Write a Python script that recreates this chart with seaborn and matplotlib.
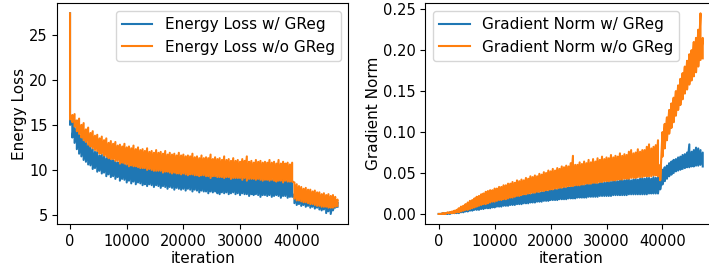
import numpy as np
import pandas as pd
import matplotlib
matplotlib.use("Agg")
import matplotlib.pyplot as plt
import seaborn as sns

# ---- data (upper / lower edges of the noisy curves) ----
iteration = np.arange(0, 47201, 400)

energy_w_hi = [27.4, 15.3, 15.5, 14.6, 14.4, 13.7, 13.5, 13.2, 12.8, 12.6,
               12.3, 12.0, 12.0, 11.6, 11.7, 11.5, 11.3, 11.4, 11.1, 11.1,
               11.0, 10.8, 11.0, 10.7, 10.8, 10.6, 10.7, 10.5, 10.6, 10.4,
               10.5, 10.3, 10.4, 10.2, 10.4, 10.1, 10.2, 10.1, 10.2, 10.0,
               10.1, 9.9, 10.1, 9.9, 10.0, 9.8, 9.9, 9.8, 9.9, 9.7,
               9.8, 9.7, 9.8, 9.6, 9.7, 9.6, 9.7, 9.5, 9.6, 9.5,
               9.6, 9.4, 9.5, 9.4, 9.5, 9.3, 9.5, 9.3, 9.4, 9.3,
               9.3, 9.2, 9.3, 9.2, 9.3, 9.1, 9.2, 9.1, 9.2, 9.0,
               9.1, 9.0, 9.2, 9.0, 9.1, 8.9, 9.0, 8.9, 9.0, 8.9,
               8.9, 8.8, 9.0, 8.8, 8.9, 8.8, 8.9, 8.7, 8.8, 7.3,
               7.2, 7.1, 7.1, 7.0, 7.0, 6.9, 6.9, 6.9, 6.8, 6.8,
               6.7, 6.7, 6.7, 6.6, 6.6, 6.5, 6.5, 6.5, 6.4]

energy_w_lo = [15.0, 13.6, 13.0, 12.3, 11.8, 11.5, 11.1, 10.9, 10.6, 10.5,
               10.1, 10.2, 9.8, 9.9, 9.6, 9.7, 9.3, 9.5, 9.2, 9.3,
               9.0, 9.2, 8.8, 9.0, 8.9, 8.6, 8.8, 8.5, 8.7, 8.4,
               8.6, 8.5, 8.3, 8.4, 8.2, 8.4, 8.3, 8.1, 8.3, 8.2,
               8.0, 8.2, 8.1, 7.9, 8.1, 8.0, 7.8, 8.0, 7.9, 7.8,
               7.9, 7.7, 7.9, 7.8, 7.6, 7.8, 7.7, 7.5, 7.7, 7.6,
               7.6, 7.4, 7.6, 7.5, 7.6, 7.4, 7.3, 7.5, 7.4, 7.5,
               7.3, 7.4, 7.5, 7.3, 7.4, 7.2, 7.4, 7.3, 7.3, 7.1,
               7.3, 7.2, 7.3, 7.2, 7.0, 7.2, 7.2, 7.1, 7.2, 7.0,
               7.1, 7.2, 7.1, 6.9, 7.1, 7.1, 6.9, 7.0, 7.0, 6.3,
               6.1, 6.2, 6.0, 6.1, 5.9, 6.0, 5.8, 5.9, 5.7, 5.8,
               5.6, 5.5, 5.6, 5.2, 5.4, 5.1, 5.5, 5.8, 5.9]

energy_wo_hi = [27.4, 16.1, 16.2, 15.5, 15.7, 15.0, 15.2, 14.5, 14.7, 14.1,
                14.3, 13.8, 13.9, 13.5, 13.7, 13.3, 13.5, 13.0, 13.2, 12.9,
                13.1, 12.7, 12.8, 12.6, 12.9, 12.5, 12.6, 12.4, 12.7, 12.3,
                12.5, 12.2, 12.3, 12.1, 12.4, 12.0, 12.1, 11.9, 12.2, 11.9,
                12.0, 11.8, 12.1, 11.7, 11.9, 11.7, 11.8, 11.6, 11.9, 11.6,
                11.7, 11.5, 11.6, 11.5, 11.8, 11.4, 11.5, 11.3, 11.6, 11.3,
                11.4, 11.3, 11.7, 11.2, 11.4, 11.2, 11.3, 11.1, 11.5, 11.1,
                11.2, 11.0, 11.3, 11.0, 11.1, 10.9, 11.2, 11.0, 11.5, 10.9,
                11.0, 10.8, 11.1, 10.9, 11.0, 10.8, 10.9, 10.8, 11.1, 10.8,
                10.9, 10.7, 11.1, 10.7, 10.9, 10.7, 10.8, 10.6, 10.8, 8.6,
                8.4, 8.2, 8.1, 7.9, 8.0, 7.8, 7.8, 7.6, 7.7, 7.5,
                7.5, 7.3, 7.4, 7.2, 7.3, 7.1, 7.2, 7.0, 6.7]

energy_wo_lo = [15.6, 15.3, 14.8, 14.3, 14.0, 13.6, 13.3, 13.1, 12.8, 12.6,
                12.4, 12.2, 12.1, 11.8, 11.8, 11.6, 11.5, 11.3, 11.2, 11.2,
                11.0, 11.0, 10.7, 10.8, 10.7, 10.6, 10.4, 10.5, 10.4, 10.4,
                10.3, 10.2, 10.2, 10.2, 10.0, 10.1, 10.0, 9.9, 9.9, 9.9,
                9.9, 9.7, 9.8, 9.8, 9.7, 9.6, 9.7, 9.6, 9.6, 9.5,
                9.6, 9.5, 9.4, 9.5, 9.5, 9.4, 9.4, 9.3, 9.4, 9.4,
                9.3, 9.3, 9.1, 9.3, 9.3, 9.2, 9.2, 9.2, 9.1, 9.2,
                9.2, 9.0, 9.1, 9.1, 9.1, 9.1, 8.9, 9.1, 8.8, 9.0,
                9.0, 9.0, 8.9, 9.0, 8.9, 8.8, 8.9, 8.9, 8.8, 8.9,
                8.8, 8.7, 8.8, 8.8, 8.6, 8.8, 8.7, 8.7, 8.7, 6.8,
                6.6, 6.6, 6.5, 6.4, 6.4, 6.3, 6.2, 6.2, 6.1, 6.0,
                6.0, 5.9, 5.9, 5.9, 5.8, 5.8, 5.8, 5.9, 6.0]

grad_w_hi = [0.000, 0.000, 0.001, 0.001, 0.001, 0.002, 0.002, 0.003, 0.003, 0.004,
             0.005, 0.006, 0.006, 0.007, 0.008, 0.009, 0.009, 0.010, 0.011, 0.012,
             0.013, 0.013, 0.014, 0.015, 0.015, 0.016, 0.017, 0.017, 0.018, 0.018,
             0.019, 0.019, 0.020, 0.020, 0.021, 0.021, 0.022, 0.022, 0.023, 0.023,
             0.024, 0.024, 0.025, 0.025, 0.026, 0.026, 0.027, 0.027, 0.028, 0.028,
             0.029, 0.029, 0.030, 0.030, 0.031, 0.031, 0.032, 0.032, 0.033, 0.033,
             0.034, 0.034, 0.035, 0.035, 0.036, 0.035, 0.036, 0.037, 0.036, 0.037,
             0.038, 0.037, 0.038, 0.039, 0.038, 0.039, 0.040, 0.039, 0.040, 0.041,
             0.040, 0.041, 0.045, 0.041, 0.042, 0.042, 0.041, 0.042, 0.043, 0.042,
             0.043, 0.044, 0.043, 0.044, 0.044, 0.043, 0.045, 0.044, 0.045, 0.048,
             0.054, 0.057, 0.059, 0.062, 0.064, 0.066, 0.067, 0.069, 0.070, 0.072,
             0.073, 0.075, 0.085, 0.076, 0.078, 0.081, 0.080, 0.078, 0.075]

grad_w_lo = [0.000, 0.000, 0.000, 0.000, 0.000, 0.000, 0.001, 0.001, 0.001, 0.001,
             0.002, 0.002, 0.003, 0.003, 0.004, 0.004, 0.005, 0.005, 0.005, 0.006,
             0.006, 0.007, 0.007, 0.007, 0.008, 0.008, 0.009, 0.009, 0.009, 0.010,
             0.010, 0.010, 0.011, 0.011, 0.011, 0.012, 0.012, 0.012, 0.013, 0.013,
             0.013, 0.014, 0.014, 0.014, 0.015, 0.015, 0.015, 0.016, 0.016, 0.016,
             0.017, 0.017, 0.017, 0.017, 0.018, 0.018, 0.018, 0.018, 0.019, 0.019,
             0.019, 0.019, 0.020, 0.020, 0.020, 0.020, 0.020, 0.021, 0.021, 0.021,
             0.021, 0.021, 0.022, 0.022, 0.022, 0.022, 0.022, 0.022, 0.023, 0.023,
             0.023, 0.023, 0.023, 0.023, 0.023, 0.024, 0.024, 0.024, 0.024, 0.024,
             0.024, 0.024, 0.024, 0.024, 0.025, 0.025, 0.025, 0.025, 0.025, 0.030,
             0.036, 0.040, 0.043, 0.046, 0.048, 0.050, 0.052, 0.053, 0.054, 0.055,
             0.056, 0.057, 0.057, 0.058, 0.058, 0.059, 0.059, 0.060, 0.058]

grad_wo_hi = [0.000, 0.000, 0.001, 0.001, 0.002, 0.002, 0.003, 0.004, 0.005, 0.007,
              0.009, 0.010, 0.012, 0.014, 0.016, 0.017, 0.019, 0.021, 0.022, 0.024,
              0.025, 0.027, 0.028, 0.029, 0.029, 0.031, 0.031, 0.033, 0.033, 0.035,
              0.035, 0.037, 0.037, 0.039, 0.038, 0.041, 0.040, 0.042, 0.041, 0.044,
              0.043, 0.046, 0.045, 0.047, 0.046, 0.049, 0.048, 0.051, 0.050, 0.053,
              0.052, 0.055, 0.053, 0.056, 0.055, 0.058, 0.057, 0.059, 0.058, 0.062,
              0.071, 0.060, 0.060, 0.063, 0.061, 0.064, 0.062, 0.066, 0.063, 0.067,
              0.064, 0.068, 0.066, 0.070, 0.067, 0.069, 0.068, 0.072, 0.069, 0.071,
              0.070, 0.074, 0.071, 0.073, 0.072, 0.076, 0.078, 0.074, 0.075, 0.079,
              0.076, 0.078, 0.078, 0.082, 0.085, 0.080, 0.082, 0.084, 0.090, 0.060,
              0.100, 0.110, 0.118, 0.127, 0.135, 0.142, 0.150, 0.157, 0.165, 0.172,
              0.180, 0.187, 0.195, 0.200, 0.210, 0.215, 0.225, 0.245, 0.215]

grad_wo_lo = [0.000, 0.000, 0.000, 0.000, 0.001, 0.001, 0.001, 0.001, 0.002, 0.002,
              0.003, 0.004, 0.005, 0.005, 0.006, 0.007, 0.008, 0.009, 0.010, 0.011,
              0.012, 0.012, 0.013, 0.014, 0.015, 0.015, 0.016, 0.017, 0.017, 0.018,
              0.018, 0.019, 0.020, 0.020, 0.021, 0.022, 0.022, 0.023, 0.024, 0.024,
              0.025, 0.025, 0.026, 0.026, 0.027, 0.027, 0.028, 0.028, 0.029, 0.029,
              0.030, 0.030, 0.031, 0.031, 0.032, 0.032, 0.033, 0.033, 0.034, 0.034,
              0.034, 0.035, 0.035, 0.035, 0.036, 0.036, 0.037, 0.037, 0.037, 0.038,
              0.038, 0.038, 0.039, 0.039, 0.040, 0.040, 0.040, 0.041, 0.041, 0.041,
              0.042, 0.042, 0.042, 0.043, 0.043, 0.043, 0.044, 0.044, 0.044, 0.045,
              0.045, 0.045, 0.046, 0.046, 0.046, 0.046, 0.047, 0.047, 0.046, 0.041,
              0.070, 0.080, 0.090, 0.098, 0.105, 0.112, 0.120, 0.127, 0.133, 0.140,
              0.147, 0.152, 0.158, 0.163, 0.168, 0.173, 0.180, 0.188, 0.190]

labels_energy = ["Energy Loss w/ GReg", "Energy Loss w/o GReg"]
labels_grad = ["Gradient Norm w/ GReg", "Gradient Norm w/o GReg"]
colors = ["#1f77b4", "#ff7f0e"]


def band_table(hi, lo):
    # each logged step drawn as a stroke from its upper to its lower reading
    x = np.repeat(iteration, 2)
    y = np.column_stack([hi, lo]).ravel()
    return pd.DataFrame({"iteration": x, "value": y})


plt.rcParams["font.family"] = ["DejaVu Sans"]
plt.rcParams["font.size"] = 11
plt.rcParams["xtick.labelsize"] = 10.5
plt.rcParams["ytick.labelsize"] = 10.5

fig = plt.figure(figsize=(7.09, 2.70), dpi=100)
ax1 = fig.add_axes([0.0808, 0.1704, 0.4104, 0.8174])
ax2 = fig.add_axes([0.6001, 0.1704, 0.4097, 0.8174])

for (hi, lo), lab, col in zip([(energy_w_hi, energy_w_lo), (energy_wo_hi, energy_wo_lo)],
                              labels_energy, colors):
    sns.lineplot(data=band_table(hi, lo), x="iteration", y="value", label=lab,
                 color=col, linewidth=1.5, ax=ax1, estimator=None, sort=False)
for (hi, lo), lab, col in zip([(grad_w_hi, grad_w_lo), (grad_wo_hi, grad_wo_lo)],
                              labels_grad, colors):
    sns.lineplot(data=band_table(hi, lo), x="iteration", y="value", label=lab,
                 color=col, linewidth=1.5, ax=ax2, estimator=None, sort=False)

ax1.set_xlim(-2250, 49100)
ax1.set_xlabel("iteration", labelpad=1.5)
ax1.set_ylabel("Energy Loss", labelpad=1)
ax1.legend(loc="upper right")

ax2.set_xlabel("iteration", labelpad=1.5)
ax2.set_ylabel("Gradient Norm", labelpad=1)
ax2.legend(loc="upper left")

for ax in (ax1, ax2):
    ax.set_xticks([0, 10000, 20000, 30000, 40000])
ax1.set_yticks([5, 10, 15, 20, 25])

fig.savefig("out.png", dpi=100)
